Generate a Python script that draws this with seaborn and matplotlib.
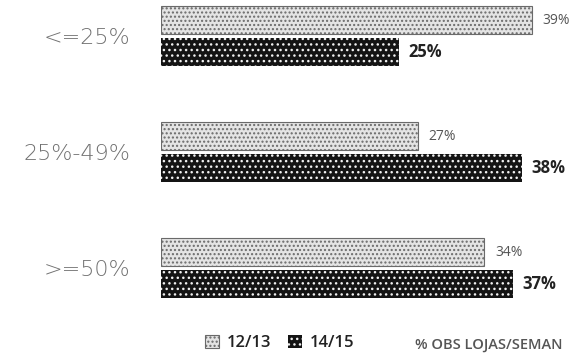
import matplotlib
matplotlib.use("Agg")
import matplotlib.pyplot as plt
from matplotlib.patches import Patch
import pandas as pd
import seaborn as sns

categories = ["<=25%", "25%-49%", ">=50%"]
seasons = ["12/13", "14/15"]
values_1213 = [39, 27, 34]
values_1415 = [25, 38, 37]
footnote = "% OBS LOJAS/SEMAN"

df = pd.DataFrame({
    "faixa": categories * 2,
    "epoca": [seasons[0]] * 3 + [seasons[1]] * 3,
    "valor": values_1213 + values_1415,
})

sns.set_theme(style="white")
plt.rcParams["font.family"] = ["Open Sans", "DejaVu Sans"]
plt.rcParams["hatch.linewidth"] = 1.0

fig = plt.figure(figsize=(5.78, 3.6), dpi=100)
ax = fig.add_axes([161 / 578, 0.0, 0.707, 1.0])

sns.barplot(data=df, y="faixa", x="valor", hue="epoca", order=categories,
            hue_order=seasons, orient="h", width=0.55, gap=0.15,
            palette=["#e4e4e4", "#141414"], saturation=1, legend=False, ax=ax)

styles = [
    dict(facecolor="#e4e4e4", edgecolor="#6a6a6a", hatch="....", linewidth=0.8),
    dict(facecolor="#141414", edgecolor="#f0f0f0", hatch="...", linewidth=0.0),
]
for cont, st in zip(ax.containers, styles):
    for bar in cont:
        bar.set_facecolor(st["facecolor"])
        bar.set_edgecolor(st["edgecolor"])
        bar.set_hatch(st["hatch"])
        bar.set_linewidth(st["linewidth"])

ax.bar_label(ax.containers[0], fmt="{:.0f}%", padding=8, fontsize=10,
             color="#555555", clip_on=False)
ax.bar_label(ax.containers[1], fmt="{:.0f}%", padding=7, fontsize=12,
             fontweight="bold", color="#222222", clip_on=False)

ax.set_xlim(0, 43)
ax.set_ylim(324 / 116, -36 / 116)
ax.set_xlabel("")
ax.set_ylabel("")
ax.set_xticks([])
ax.tick_params(axis="y", length=0, pad=22)
for lab in ax.get_yticklabels():
    lab.set_fontfamily(["DejaVu Sans"])
    lab.set_fontsize(16)
    lab.set_fontweight("light")
    lab.set_color("#707070")
sns.despine(ax=ax, left=True, bottom=True)

handles = [Patch(**styles[0]), Patch(**styles[1])]
fig.legend(handles, seasons, loc="center", bbox_to_anchor=(280 / 578, 1 - 343 / 360),
           ncol=2, frameon=False, handlelength=0.8, handleheight=0.8,
           handletextpad=0.5, columnspacing=1.0, labelcolor="#222222",
           prop={"weight": "semibold", "size": 12})

fig.text(415 / 578, 1 - 345 / 360, footnote, fontsize=10.5, color="#555555",
         va="center", ha="left", fontweight="semibold")

fig.savefig("out.png", dpi=100)
